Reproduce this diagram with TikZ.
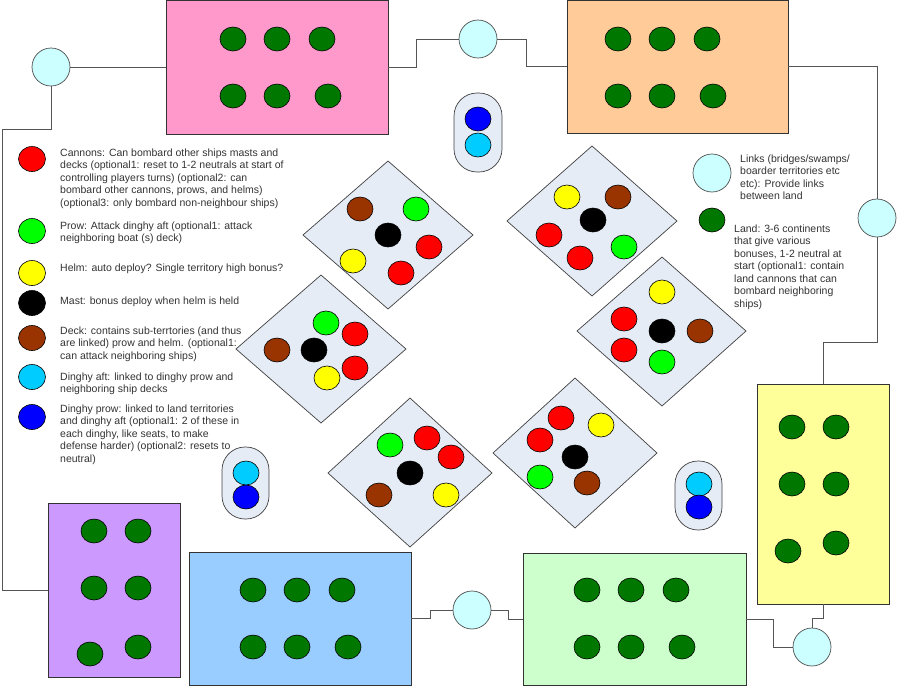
\documentclass[tikz,border=0pt]{standalone}
\usepackage{fontspec}
\setmainfont{Liberation Sans}
\usetikzlibrary{shapes.geometric}

\definecolor{cannonred}{RGB}{255,0,0}
\definecolor{prowgreen}{RGB}{0,255,0}
\definecolor{helmyellow}{RGB}{255,255,0}
\definecolor{deckbrown}{RGB}{153,51,0}
\definecolor{aftcyan}{RGB}{0,204,255}
\definecolor{prowblue}{RGB}{0,0,255}
\definecolor{landgreen}{RGB}{0,120,0}
\definecolor{linkcyan}{RGB}{204,255,255}
\definecolor{shipgray}{RGB}{230,236,246}
\definecolor{pinkland}{RGB}{255,153,204}
\definecolor{orangeland}{RGB}{255,204,153}
\definecolor{yellowland}{RGB}{255,255,153}
\definecolor{greenland}{RGB}{204,255,204}
\definecolor{blueland}{RGB}{153,204,255}
\definecolor{purpleland}{RGB}{204,153,255}
\definecolor{wiregray}{RGB}{85,85,85}
\definecolor{inktext}{RGB}{51,51,51}

\tikzset{
  landbox/.style={rectangle, draw=black!80, line width=0.9pt, inner sep=0pt},
  link/.style={circle, draw=black!70, fill=linkcyan, minimum size=38pt, inner sep=0pt, line width=0.7pt},
  dot/.style={ellipse, draw=black, line width=0.6pt, minimum width=26pt, minimum height=24pt, inner sep=0pt},
  land/.style={dot, fill=landgreen},
  cannon/.style={dot, fill=cannonred},
  prow/.style={dot, fill=prowgreen},
  helm/.style={dot, fill=helmyellow},
  mast/.style={dot, fill=black},
  deck/.style={dot, fill=deckbrown},
  aft/.style={dot, fill=aftcyan},
  dprow/.style={dot, fill=prowblue},
  ship/.style={fill=shipgray, draw=black!75, line width=0.7pt},
  dinghy/.style={rectangle, rounded corners=23pt, fill=shipgray, draw=black!75, line width=0.7pt, inner sep=0pt},
  wire/.style={draw=wiregray, line width=1pt},
  legendtext/.style={anchor=north west, align=left, inner sep=0pt, text=inktext, font=\fontsize{10.5}{12.5}\selectfont},
}

\begin{document}
\begin{tikzpicture}[x=1pt, y=-1pt]
    \useasboundingbox (0,0) rectangle (897,686);

    \node[landbox, fill=pinkland, minimum width=222pt, minimum height=134pt] (pink) at (277,67) {};
    \node[landbox, fill=orangeland, minimum width=221pt, minimum height=133pt] (orange) at (677.5,66.5) {};
    \node[landbox, fill=yellowland, minimum width=132pt, minimum height=220pt] (yellow) at (823,494) {};
    \node[landbox, fill=greenland, minimum width=223pt, minimum height=132pt] (green) at (634.5,619) {};
    \node[landbox, fill=blueland, minimum width=222pt, minimum height=133pt] (blue) at (300,618.5) {};
    \node[landbox, fill=purpleland, minimum width=132pt, minimum height=174pt] (purple) at (114,590) {};

    \node[link] (lnkNW) at (51,67) {};
    \node[link] (lnkN) at (478,39) {};
    \node[link] (lnkE) at (877,218) {};
    \node[link] (lnkSE) at (812,647) {};
    \node[link] (lnkS) at (472,610) {};
    \coordinate (bendW) at (2,129);

    \draw[wire] (lnkNW.east) -- (pink.west);
    \draw[wire] (pink.east) -- ++(28,0) |- (lnkN.west);
    \draw[wire] (lnkN.east) -- ++(29,0) |- (orange.west);
    \draw[wire] (orange.east) -| (lnkE.north);
    \draw[wire] (lnkE.south) -- ++(0,105) -| (yellow.north);
    \draw[wire] (yellow.south) -- ++(0,14) -| (lnkSE.north);
    \draw[wire] (lnkSE.west) -- ++(-19,0) |- (green.east);
    \draw[wire] (green.west) -- ++(-14,0) |- (lnkS.east);
    \draw[wire] (lnkS.west) -- ++(-22,0) |- (blue.east);
    \draw[wire] (purple.west) -| (bendW) -| (lnkNW.south);

    \node[land] (pk1) at (233,39) {};
    \node[land] (pk2) at (277,39) {};
    \node[land] (pk3) at (322,39) {};
    \node[land] (pk4) at (233,96) {};
    \node[land] (pk5) at (277,96) {};
    \node[land] (pk6) at (328,96) {};
    \node[land] (or1) at (618,39) {};
    \node[land] (or2) at (662,39) {};
    \node[land] (or3) at (707,39) {};
    \node[land] (or4) at (618,96) {};
    \node[land] (or5) at (662,96) {};
    \node[land] (or6) at (713,96) {};
    \node[land] (ye1) at (792,427) {};
    \node[land] (ye2) at (836,427) {};
    \node[land] (ye3) at (792,484) {};
    \node[land] (ye4) at (836,484) {};
    \node[land] (ye5) at (788,551) {};
    \node[land] (ye6) at (836,543) {};
    \node[land] (gr1) at (587,590) {};
    \node[land] (gr2) at (631,590) {};
    \node[land] (gr3) at (676,590) {};
    \node[land] (gr4) at (587,647) {};
    \node[land] (gr5) at (631,647) {};
    \node[land] (gr6) at (682,647) {};
    \node[land] (bl1) at (253,590) {};
    \node[land] (bl2) at (297,590) {};
    \node[land] (bl3) at (342,590) {};
    \node[land] (bl4) at (253,647) {};
    \node[land] (bl5) at (297,647) {};
    \node[land] (bl6) at (348,647) {};
    \node[land] (pu1) at (94,531) {};
    \node[land] (pu2) at (138,531) {};
    \node[land] (pu3) at (94,588) {};
    \node[land] (pu4) at (138,588) {};
    \node[land] (pu5) at (90,654) {};
    \node[land] (pu6) at (138,647) {};

    \filldraw[ship] (388,161) -- (473,235) -- (388,309) -- (303,235) -- cycle;
    \filldraw[ship] (592,146) -- (677,221) -- (592,296) -- (507,221) -- cycle;
    \filldraw[ship] (321,275) -- (406,349) -- (321,423) -- (236,349) -- cycle;
    \filldraw[ship] (662,257) -- (746,331) -- (662,406) -- (577,331) -- cycle;
    \filldraw[ship] (410,398) -- (492,473) -- (410,547) -- (328,473) -- cycle;
    \filldraw[ship] (575,378) -- (657,453) -- (575,528) -- (493,453) -- cycle;

    \node[deck] (sa1) at (360,209) {};
    \node[prow] (sa2) at (416,209) {};
    \node[mast] (sa3) at (388,235) {};
    \node[cannon] (sa4) at (429,247) {};
    \node[helm] (sa5) at (353,261) {};
    \node[cannon] (sa6) at (401,273) {};
    \node[helm] (sb1) at (567,197) {};
    \node[deck] (sb2) at (618,197) {};
    \node[mast] (sb3) at (593,220) {};
    \node[cannon] (sb4) at (549,235) {};
    \node[prow] (sb5) at (624,247) {};
    \node[cannon] (sb6) at (580,258) {};
    \node[prow] (sc1) at (326,323) {};
    \node[cannon] (sc2) at (355,334) {};
    \node[deck] (sc3) at (277,350) {};
    \node[mast] (sc4) at (314,350) {};
    \node[helm] (sc5) at (327,378) {};
    \node[cannon] (sc6) at (355,368) {};
    \node[helm] (sd1) at (662,292) {};
    \node[cannon] (sd2) at (624,319) {};
    \node[mast] (sd3) at (662,331) {};
    \node[deck] (sd4) at (700,331) {};
    \node[cannon] (sd5) at (624,350) {};
    \node[prow] (sd6) at (662,362) {};
    \node[prow] (se1) at (390,445) {};
    \node[cannon] (se2) at (427,438) {};
    \node[cannon] (se3) at (451,457) {};
    \node[mast] (se4) at (410,473) {};
    \node[deck] (se5) at (379,495) {};
    \node[helm] (se6) at (446,495) {};
    \node[cannon] (sf1) at (561,418) {};
    \node[cannon] (sf2) at (540,440) {};
    \node[helm] (sf3) at (601,425) {};
    \node[mast] (sf4) at (575,457) {};
    \node[prow] (sf5) at (540,477) {};
    \node[deck] (sf6) at (587,483) {};

    \node[dinghy, minimum width=48pt, minimum height=79pt] (dinghyN) at (478,132.5) {};
    \node[dprow] (dn1) at (478,119) {};
    \node[aft] (dn2) at (478,145) {};
    \node[dinghy, minimum width=47pt, minimum height=72pt] (dinghyW) at (245.5,483) {};
    \node[aft] (dw1) at (246,473) {};
    \node[dprow] (dw2) at (246,497) {};
    \node[dinghy, minimum width=47pt, minimum height=69pt] (dinghyE) at (698.5,495.5) {};
    \node[aft] (de1) at (699,484) {};
    \node[dprow] (de2) at (699,507) {};

    \node[cannon, minimum width=27pt, minimum height=25pt] (keyCannon) at (32,159) {};
    \node[prow, minimum width=27pt, minimum height=25pt] (keyProw) at (32,231) {};
    \node[helm, minimum width=27pt, minimum height=25pt] (keyHelm) at (32,273) {};
    \node[mast, minimum width=27pt, minimum height=25pt] (keyMast) at (32,303) {};
    \node[deck, minimum width=27pt, minimum height=25pt] (keyDeck) at (32,338) {};
    \node[aft, minimum width=27pt, minimum height=25pt] (keyAft) at (32,377) {};
    \node[dprow, minimum width=27pt, minimum height=25pt] (keyDprow) at (32,417) {};
    \node[link] (keyLink) at (712,173) {};
    \node[land] (keyLand) at (712,220) {};

    \node[legendtext] (txtCannon) at (60,148.5) {Cannons: Can bombard other ships masts and\\decks (optional1: reset to 1-2 neutrals at start of\\controlling players turns) (optional2: can\\bombard other cannons, prows, and helms)\\(optional3: only bombard non-neighbour ships)};
    \node[legendtext] (txtProw) at (60,221.5) {Prow: Attack dinghy aft (optional1: attack\\neighboring boat (s) deck)};
    \node[legendtext] (txtHelm) at (60,263.5) {Helm: auto deploy? Single territory high bonus?};
    \node[legendtext] (txtMast) at (60,296.5) {Mast: bonus deploy when helm is held};
    \node[legendtext] (txtDeck) at (60,326.5) {Deck: contains sub-terrtories (and thus\\are linked) prow and helm. (optional1:\\can attack neighboring ships)};
    \node[legendtext] (txtAft) at (60,372.5) {Dinghy aft: linked to dinghy prow and\\neighboring ship decks};
    \node[legendtext] (txtDprow) at (60,404.5) {Dinghy prow: linked to land territories\\and dinghy aft (optional1: 2 of these in\\each dinghy, like seats, to make\\defense harder) (optional2: resets to\\neutral)};
    \node[legendtext] (txtLink) at (740,154.5) {Links (bridges/swamps/\\boarder territories etc\\etc): Provide links\\between land};
    \node[legendtext] (txtLand) at (734,224.5) {Land: 3-6 continents\\that give various\\bonuses, 1-2 neutral at\\start (optional1: contain\\land cannons that can\\bombard neighboring\\ships)};
\end{tikzpicture}
\end{document}
